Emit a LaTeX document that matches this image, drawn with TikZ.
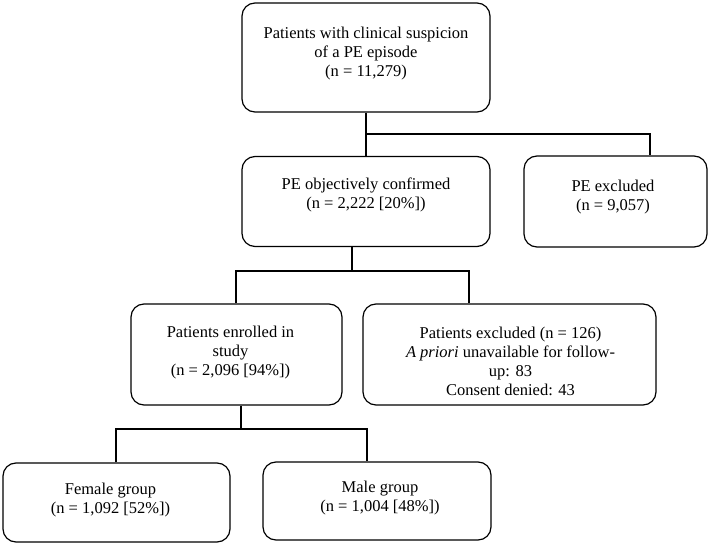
\documentclass[tikz,border=0pt]{standalone}
\usepackage{fontspec}
\setmainfont{Liberation Serif}
\begin{document}
\begin{tikzpicture}[x=1pt,y=-1pt,
  box/.style={draw, line width=1.2pt, rounded corners=13pt, rectangle, inner sep=0pt},
  txt/.style={align=center, inner sep=0pt, font=\fontsize{16.5}{19}\selectfont},
  conn/.style={draw, line width=1.2pt}]
\useasboundingbox (0,0) rectangle (709,545);
% boxes
\node[box, minimum width=248pt, minimum height=109pt] (top) at (366,57.5) {};
\node[box, minimum width=248pt, minimum height=90pt] (conf) at (366,201.5) {};
\node[box, minimum width=183pt, minimum height=91pt] (pex) at (615.5,201.5) {};
\node[box, minimum width=211pt, minimum height=101pt] (enr) at (236.5,354.5) {};
\node[box, minimum width=293pt, minimum height=101pt] (exc) at (509.5,354.5) {};
\node[box, minimum width=227pt, minimum height=79pt] (fem) at (116.5,502.5) {};
\node[box, minimum width=228pt, minimum height=78pt] (male) at (377,501) {};
% texts
\node[txt] (ttop) at (366,53.5) {Patients with clinical suspicion\\of a PE episode\\(n = 11,279)};
\node[txt] (tconf) at (366,195) {PE objectively confirmed\\(n = 2,222 [20\%])};
\node[txt] (tpex) at (613,197) {PE excluded\\(n = 9,057)};
\node[txt] (tenr) at (230.5,353) {Patients enrolled in\\study\\(n = 2,096 [94\%])};
\node[txt] (texc) at (510.5,361.5) {Patients excluded (n = 126)\\\textit{A priori} unavailable for follow-\\up: 83\\Consent denied: 43};
\node[txt] (tfem) at (110.5,500.5) {Female group\\(n = 1,092 [52\%])};
\node[txt] (tmale) at (380,498) {Male group\\(n = 1,004 [48\%])};
% connectors
\coordinate (j1) at (650,134);
\draw[conn] (top.south) -- (conf.north);
\draw[conn] (top.south |- j1) -- (j1) -- (j1 |- pex.north);
\coordinate (j2) at (352,271);
\coordinate (j2l) at (236,271);
\coordinate (j2r) at (469,271);
\draw[conn] (conf.south -| j2) -- (j2);
\draw[conn] (j2l |- enr.north) -- (j2l) -- (j2r) -- (j2r |- exc.north);
\coordinate (j3) at (241,429);
\coordinate (j3l) at (116,429);
\coordinate (j3r) at (367,429);
\draw[conn] (enr.south -| j3) -- (j3);
\draw[conn] (j3l |- fem.north) -- (j3l) -- (j3r) -- (j3r |- male.north);
\end{tikzpicture}
\end{document}
